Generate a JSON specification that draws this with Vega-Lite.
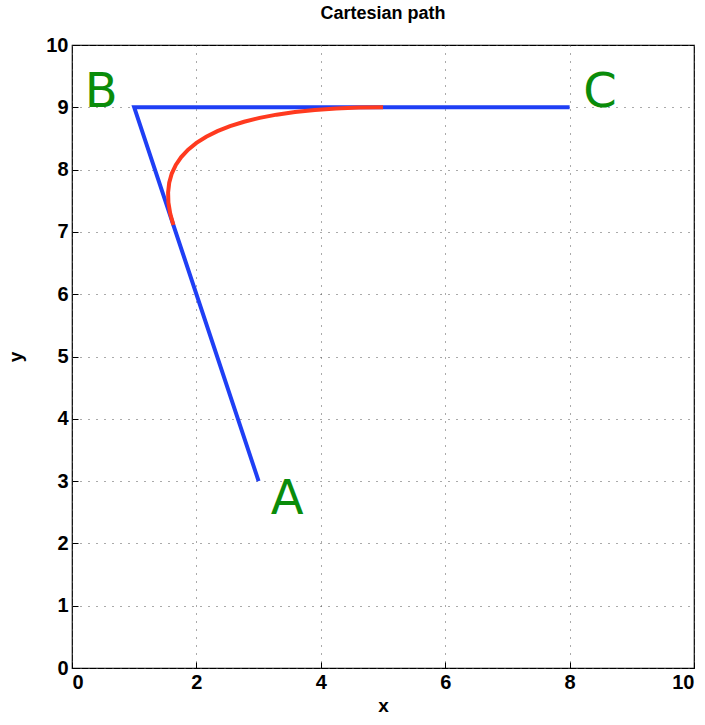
{
  "$schema": "https://vega.github.io/schema/vega-lite/v6.json",
  "autosize": "none",
  "width": 622,
  "height": 623,
  "padding": {"left": 72, "top": 45, "right": 11, "bottom": 57},
  "background": "white",
  "title": {"text": "Cartesian path", "font": "Liberation Sans", "fontSize": 18, "fontWeight": "bold", "color": "black", "offset": 12},
  "config": {
    "view": {"stroke": "black", "strokeWidth": 1.2},
    "axis": {
      "domain": false,
      "grid": true,
      "gridColor": "#555555",
      "gridDash": [1, 7],
      "gridWidth": 1,
      "tickColor": "black",
      "tickSize": -6,
      "labelFont": "Liberation Sans",
      "labelFontSize": 20,
      "labelFontWeight": "bold",
      "labelColor": "black",
      "titleFont": "Liberation Sans",
      "titleFontSize": 19,
      "titleFontWeight": "bold",
      "titleColor": "black"
    }
  },
  "datasets": {
    "path": [
      {"x": 3, "y": 3, "o": 0},
      {"x": 1, "y": 9, "o": 1},
      {"x": 8, "y": 9, "o": 2}
    ],
    "traj": [
      {"x": 1.63, "y": 7.11, "o": 0},
      {"x": 1.579, "y": 7.294, "o": 1},
      {"x": 1.55, "y": 7.469, "o": 2},
      {"x": 1.545, "y": 7.634, "o": 3},
      {"x": 1.563, "y": 7.79, "o": 4},
      {"x": 1.604, "y": 7.937, "o": 5},
      {"x": 1.669, "y": 8.074, "o": 6},
      {"x": 1.756, "y": 8.201, "o": 7},
      {"x": 1.867, "y": 8.32, "o": 8},
      {"x": 2.001, "y": 8.428, "o": 9},
      {"x": 2.158, "y": 8.528, "o": 10},
      {"x": 2.338, "y": 8.617, "o": 11},
      {"x": 2.541, "y": 8.698, "o": 12},
      {"x": 2.767, "y": 8.768, "o": 13},
      {"x": 3.017, "y": 8.83, "o": 14},
      {"x": 3.289, "y": 8.882, "o": 15},
      {"x": 3.585, "y": 8.924, "o": 16},
      {"x": 3.904, "y": 8.957, "o": 17},
      {"x": 4.246, "y": 8.981, "o": 18},
      {"x": 4.612, "y": 8.995, "o": 19},
      {"x": 5.0, "y": 9.0, "o": 20}
    ],
    "labels": [
      {"x": 3.46, "y": 2.7, "t": "A"},
      {"x": 0.47, "y": 9.23, "t": "B"},
      {"x": 8.49, "y": 9.23, "t": "C"}
    ]
  },
  "layer": [
    {
      "data": {"name": "path"},
      "mark": {"type": "line", "color": "#1f3ff5", "strokeWidth": 4, "clip": true},
      "encoding": {
        "x": {"field": "x", "type": "quantitative", "scale": {"domain": [0, 10], "nice": false}, "axis": {"values": [0, 2, 4, 6, 8, 10], "format": "d", "title": "x", "labelPadding": 10, "titlePadding": 4}},
        "y": {"field": "y", "type": "quantitative", "scale": {"domain": [0, 10], "nice": false}, "axis": {"values": [0, 1, 2, 3, 4, 5, 6, 7, 8, 9, 10], "format": "d", "title": "y", "labelPadding": 10, "titlePadding": 20}},
        "order": {"field": "o"}
      }
    },
    {
      "data": {"name": "traj"},
      "mark": {"type": "line", "color": "#ff3a1f", "strokeWidth": 4},
      "encoding": {
        "x": {"field": "x", "type": "quantitative"},
        "y": {"field": "y", "type": "quantitative"},
        "order": {"field": "o"}
      }
    },
    {
      "data": {"name": "labels"},
      "mark": {"type": "text", "color": "#0a8c0a", "font": "DejaVu Sans", "fontSize": 48, "align": "center", "baseline": "middle"},
      "encoding": {
        "x": {"field": "x", "type": "quantitative"},
        "y": {"field": "y", "type": "quantitative"},
        "text": {"field": "t"}
      }
    }
  ]
}
